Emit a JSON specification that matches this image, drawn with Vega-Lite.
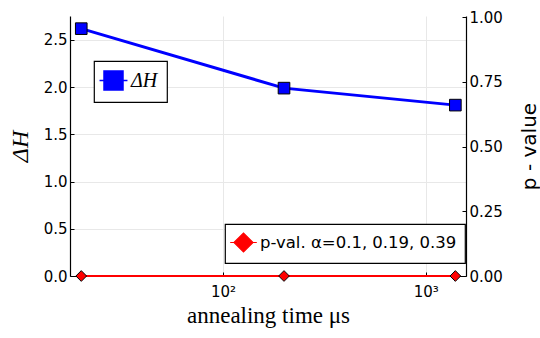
{
  "$schema": "https://vega.github.io/schema/vega-lite/v6.json",
  "width": 396,
  "height": 260,
  "autosize": "none",
  "padding": {"left": 70, "top": 16, "right": 74, "bottom": 62},
  "background": "white",
  "config": {
    "view": {"stroke": null},
    "font": "DejaVu Sans",
    "axis": {
      "labelFont": "DejaVu Sans",
      "labelFontSize": 15,
      "labelColor": "black",
      "domainColor": "black",
      "domainWidth": 1.2,
      "tickColor": "black",
      "tickSize": -4,
      "tickWidth": 1,
      "gridColor": "#e8e8e8",
      "gridWidth": 1,
      "titleColor": "black",
      "titleFontWeight": "normal"
    },
    "legend": {
      "orient": "none",
      "strokeColor": "black",
      "fillColor": "white",
      "cornerRadius": 0,
      "strokeWidth": 1.2
    }
  },
  "datasets": {
    "dh": [
      {"t": 20, "dH": 2.62, "series": "ΔH"},
      {"t": 200, "dH": 1.99, "series": "ΔH"},
      {"t": 1400, "dH": 1.81, "series": "ΔH"}
    ],
    "pv": [
      {"t": 20, "p": 0.0, "series": "p-val. α=0.1, 0.19, 0.39"},
      {"t": 200, "p": 0.0, "series": "p-val. α=0.1, 0.19, 0.39"},
      {"t": 1400, "p": 0.0, "series": "p-val. α=0.1, 0.19, 0.39"}
    ]
  },
  "encoding": {
    "x": {
      "field": "t",
      "type": "quantitative",
      "scale": {"type": "log", "domain": [17.6, 1580], "nice": false},
      "axis": {
        "values": [100, 1000],
        "labelExpr": "datum.value == 100 ? '10²' : '10³'",
        "grid": true,
        "title": "annealing time μs",
        "titleFont": "Liberation Serif",
        "titleFontSize": 23,
        "titlePadding": 5,
        "labelPadding": 12
      }
    }
  },
  "layer": [
    {
      "data": {"name": "dh"},
      "encoding": {
        "y": {
          "field": "dH",
          "type": "quantitative",
          "scale": {"domain": [0, 2.754], "nice": false, "zero": false},
          "axis": {
            "orient": "left",
            "values": [0, 0.5, 1, 1.5, 2, 2.5],
            "format": ".1f",
            "grid": true,
            "title": "ΔH",
            "titleFont": "Liberation Serif",
            "titleFontStyle": "italic",
            "titleFontSize": 24,
            "labelPadding": 7,
            "titlePadding": 11
          }
        },
        "color": {
          "field": "series",
          "type": "nominal",
          "scale": {"range": ["#0000ff"]},
          "legend": {
            "title": null,
            "legendX": 24,
            "legendY": 45,
            "padding": 9,
            "symbolType": "M-1,-1H1V1H-1ZM-1.47,0H-1M1,0H1.47",
            "symbolSize": 361,
            "symbolStrokeWidth": 1.5,
            "symbolFillColor": "#0000ff",
            "symbolStrokeColor": "#0000ff",
            "labelFont": "Liberation Serif",
            "labelFontStyle": "italic",
            "labelFontSize": 20,
            "labelOffset": 7,
            "labelColor": "black"
          }
        }
      },
      "layer": [
        {"mark": {"type": "line", "strokeWidth": 3}},
        {"mark": {"type": "point", "shape": "square", "filled": true, "size": 135, "stroke": "black", "strokeWidth": 1, "opacity": 1}}
      ]
    },
    {
      "data": {"name": "pv"},
      "encoding": {
        "y": {
          "field": "p",
          "type": "quantitative",
          "scale": {"domain": [0, 1.004], "nice": false, "zero": false},
          "axis": {
            "orient": "right",
            "values": [0, 0.25, 0.5, 0.75, 1],
            "format": ".2f",
            "grid": false,
            "title": "p - value",
            "titleFont": "DejaVu Sans",
            "titleFontSize": 20,
            "titleAngle": 270,
            "labelPadding": 7,
            "titlePadding": 37
          }
        },
        "color": {
          "field": "series",
          "type": "nominal",
          "scale": {"range": ["#ff0000"]},
          "legend": {
            "title": null,
            "legendX": 155,
            "legendY": 208,
            "padding": 8,
            "symbolType": "M-1,0L0,-1L1,0L0,1ZM-1.4,0H-1M1,0H1.4",
            "symbolSize": 361,
            "symbolStrokeWidth": 1.2,
            "symbolFillColor": "#ff0000",
            "symbolStrokeColor": "#ff0000",
            "labelFont": "DejaVu Sans",
            "labelFontSize": 16.5,
            "labelOffset": 6,
            "labelColor": "black",
            "labelLimit": 400
          }
        }
      },
      "layer": [
        {"mark": {"type": "line", "strokeWidth": 1.8}},
        {"mark": {"type": "point", "shape": "diamond", "filled": true, "size": 115, "stroke": "black", "strokeWidth": 1, "opacity": 1}}
      ]
    }
  ],
  "resolve": {"scale": {"y": "independent", "color": "independent"}}
}
